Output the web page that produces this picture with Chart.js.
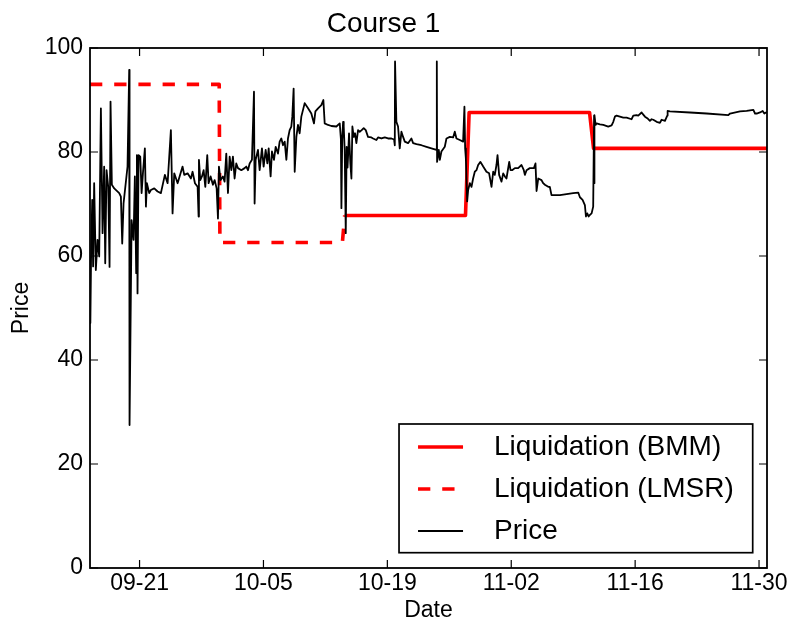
<!DOCTYPE html>
<html>
<head>
<meta charset="utf-8">
<title>Course 1</title>
<script src="https://cdn.jsdelivr.net/npm/chart.js@4.4.0/dist/chart.umd.min.js"></script>
<style>
	html, body { margin: 0; padding: 0; background: #fff; }
	#grafico { display: block; }
</style>
</head>
<body>
<canvas id="grafico" width="793" height="627"></canvas>
<script>
/* Ejes: días contados desde el 21 de septiembre */
const tickDays = [0, 14, 28, 42, 56, 70];
const tickLabels = ["09-21", "10-05", "10-19", "11-02", "11-16", "11-30"];
const yTicks = [0, 20, 40, 60, 80, 100];

/* Liquidación (BMM) */
const bmmDays = [23.18, 36.83, 37.24, 50.85, 51.3, 70.9];
const bmmValues = [67.8, 67.8, 87.6, 87.6, 80.7, 80.7];

/* Liquidación (LMSR) */
const lmsrDays = [-5.6, 9.0, 9.08, 22.92, 23.18];
const lmsrValues = [93.0, 93.0, 62.6, 62.6, 67.8];

/* Precio */
const priceDays = [
	-5.58, -5.56, -5.47, -5.35, -5.25, -5.13, -4.94, -4.75, -4.56, -4.37, -4.18, -4.0, -3.88, -3.73, -3.54, -3.39,
	-3.28, -3.13, -2.86, -2.3, -2.11, -1.96, -1.81, -1.36, -1.17, -1.13, -0.9, -0.68, -0.53, -0.38, -0.3, -0.23,
	-0.11, 0.08, 0.23, 0.38, 0.6, 0.72, 0.83, 1.09, 1.28, 1.66, 2.04, 2.41, 2.86, 3.17, 3.54, 3.73, 3.92, 4.3,
	4.86, 5.05, 5.43, 5.8, 5.99, 6.26, 6.56, 6.67, 6.71, 6.86, 7.05, 7.24, 7.43, 7.65, 7.8, 8.03, 8.29, 8.48,
	8.71, 8.86, 8.97, 9.16, 9.42, 9.61, 9.8, 9.99, 10.18, 10.37, 10.55, 10.74, 10.93, 11.12, 11.5, 11.87, 12.06,
	12.25, 12.44, 12.7, 12.93, 13.0, 13.12, 13.38, 13.57, 13.83, 14.02, 14.25, 14.44, 14.59, 14.81, 14.96, 15.19,
	15.38, 15.64, 15.83, 16.02, 16.21, 16.4, 16.59, 16.77, 16.96, 17.15, 17.26, 17.41, 17.53, 17.72, 17.9, 18.09,
	18.28, 18.47, 18.66, 19.04, 19.41, 19.71, 19.87, 20.17, 20.54, 20.77, 20.92, 21.3, 21.67, 22.24, 22.62, 22.75,
	22.81, 22.9, 23.0, 23.07, 23.18, 23.3, 23.4, 23.5, 23.56, 23.67, 23.82, 23.94, 24.05, 24.2, 24.35, 24.5,
	24.69, 24.88, 25.1, 25.33, 25.56, 25.82, 26.2, 26.39, 26.76, 26.95, 27.33, 27.71, 28.08, 28.46, 28.76, 28.84,
	28.87, 29.02, 29.21, 29.4, 29.59, 29.78, 29.97, 30.34, 30.72, 30.91, 31.29, 31.85, 32.42, 32.98, 33.55, 33.59,
	33.62, 33.81, 33.93, 34.11, 34.49, 34.68, 35.06, 35.43, 35.62, 35.81, 36.19, 36.56, 36.71, 36.79, 36.87, 36.94,
	37.02, 37.13, 37.32, 37.51, 37.69, 37.88, 38.07, 38.26, 38.52, 38.83, 39.2, 39.5, 39.77, 39.96, 40.14, 40.33,
	40.45, 40.63, 40.9, 41.09, 41.28, 41.46, 41.77, 41.92, 42.1, 42.41, 42.78, 43.16, 43.42, 43.54, 43.73, 44.1,
	44.56, 44.74, 44.86, 45.05, 45.42, 45.61, 45.8, 46.18, 46.36, 46.55, 46.93, 47.5, 48.25, 49.0, 49.57, 49.76,
	50.06, 50.32, 50.44, 50.59, 50.74, 50.89, 51.08, 51.26, 51.36, 51.38, 51.42, 51.53, 51.64, 52.02, 52.4, 52.96,
	53.34, 53.53, 53.71, 53.9, 54.28, 54.66, 55.03, 55.6, 55.79, 56.16, 56.35, 56.73, 56.92, 57.11, 57.37, 57.67,
	57.86, 58.05, 58.43, 58.8, 58.99, 59.37, 59.63, 59.67, 59.93, 62.2, 64.08, 66.53, 66.72, 67.85, 68.6, 69.36,
	69.55, 69.74, 70.11, 70.41, 70.6, 70.79, 70.9,
];
const priceValues = [
	59.9, 47.1, 61.0, 70.8, 58.0, 74.0, 57.3, 63.1, 59.9, 88.4, 64.4, 77.2, 58.6, 76.5, 73.3, 57.9,
	89.7, 73.7, 73.0, 72.1, 71.4, 62.4, 70.1, 77.2, 95.8, 27.5, 66.9, 63.1, 75.3, 56.7, 79.4, 52.8,
	79.4, 79.1, 72.1, 75.9, 80.7, 69.5, 74.0, 72.1, 72.7, 73.0, 72.4, 72.1, 75.6, 74.0, 84.2, 68.2, 75.9, 74.0,
	77.2, 75.6, 75.9, 74.9, 76.2, 74.0, 73.3, 67.6, 78.5, 74.6, 75.3, 76.5, 73.3, 79.4, 74.0, 75.3, 73.7, 74.6,
	73.0, 67.2, 77.2, 74.6, 75.3, 74.3, 79.7, 72.1, 79.1, 76.5, 79.1, 74.9, 77.8, 76.9, 76.5, 76.9, 77.2,
	76.5, 77.8, 78.5, 91.6, 70.1, 78.5, 80.4, 76.5, 80.7, 77.2, 80.4, 77.8, 80.7, 75.3, 80.1, 78.5,
	81.0, 79.7, 82.0, 82.6, 81.3, 82.0, 78.5, 82.6, 84.2, 84.9, 86.8, 92.2, 76.2, 82.9, 85.2, 83.6,
	86.8, 88.1, 89.4, 88.4, 87.4, 85.5, 87.8, 88.4, 89.0, 90.0, 85.5, 85.2, 85.0, 84.9, 85.5, 82.5,
	69.2, 82.3, 85.8, 84.9, 80.4, 64.4, 81.0, 77.0, 79.1, 83.6, 77.8, 74.9, 84.9, 82.9, 83.6, 81.7,
	84.2, 83.9, 84.2, 84.6, 84.2, 82.9, 82.8, 82.6, 82.3, 82.8, 82.6, 82.8, 82.6, 82.6, 82.4, 81.3,
	97.4, 85.8, 84.9, 80.7, 83.9, 82.9, 82.0, 81.7, 82.6, 81.7, 81.5, 81.3, 81.0, 80.7, 80.4, 97.4,
	78.1, 80.4, 78.5, 80.1, 81.0, 82.6, 82.9, 82.8, 83.9, 82.6, 82.3, 82.0, 88.7, 80.7, 78.8, 75.0,
	70.5, 72.7, 74.0, 73.3, 74.9, 76.2, 76.5, 77.5, 78.1, 77.2, 76.2, 75.9, 73.3, 76.2, 75.6, 77.5,
	79.4, 75.6, 74.3, 75.9, 75.3, 74.9, 78.1, 76.5, 76.5, 76.9, 76.9, 77.5, 76.5, 75.6, 76.5, 76.9,
	76.9, 77.8, 72.5, 74.9, 74.6, 74.0, 73.7, 73.3, 73.3, 71.7, 71.7, 71.7, 71.9, 72.1, 72.2, 71.3,
	70.8, 69.8, 67.6, 68.2, 67.6, 67.9, 68.2, 69.5, 87.0, 74.0, 87.1, 85.2, 85.5, 85.3, 85.2, 84.9,
	85.1, 85.8, 86.8, 87.0, 86.8, 86.6, 86.6, 86.3, 87.0, 87.1, 87.0, 87.6, 87.2, 86.8, 86.5, 86.0,
	86.3, 86.2, 85.8, 85.6, 86.2, 86.0, 87.0, 87.9, 87.8, 87.6, 87.4, 87.1, 87.4, 87.8, 87.9, 88.1,
	87.4, 87.4, 87.6, 87.9, 87.4, 87.6, 87.6,
];

const FUENTE = "'Liberation Sans', Arial, Helvetica, sans-serif";
Chart.defaults.font.family = FUENTE;
Chart.defaults.color = "#000";

function aPuntos(xs, ys) {
	return xs.map((x, i) => ({ x: x, y: ys[i] }));
}

/* Marco con marcas hacia dentro y leyenda en la esquina inferior derecha */
const marcoPlugin = {
	id: "marco",
	afterDraw(chart) {
		const { ctx, chartArea: a, scales } = chart;
		const largo = 8;
		ctx.save();
		ctx.strokeStyle = "#000";
		ctx.lineWidth = 1.2;
		ctx.beginPath();
		scales.x.ticks.forEach((t) => {
			const px = scales.x.getPixelForValue(t.value);
			ctx.moveTo(px, a.bottom);
			ctx.lineTo(px, a.bottom - largo);
			ctx.moveTo(px, a.top);
			ctx.lineTo(px, a.top + largo);
		});
		scales.y.ticks.forEach((t) => {
			const py = scales.y.getPixelForValue(t.value);
			ctx.moveTo(a.left, py);
			ctx.lineTo(a.left + largo, py);
			ctx.moveTo(a.right, py);
			ctx.lineTo(a.right - largo, py);
		});
		ctx.stroke();
		ctx.lineWidth = 1.8;
		ctx.strokeRect(a.left, a.top, a.right - a.left, a.bottom - a.top);

		// leyenda
		const series = chart.data.datasets;
		ctx.font = "28px " + FUENTE;
		const anchoTexto = Math.max(...series.map((d) => ctx.measureText(d.label).width));
		const w = 95 + anchoTexto + 19;
		const h = 128.7;
		const bx = a.right - 14.3 - w;
		const by = a.bottom - 15.3 - h;
		ctx.fillStyle = "#fff";
		ctx.fillRect(bx, by, w, h);
		ctx.lineWidth = 1.7;
		ctx.strokeStyle = "#000";
		ctx.strokeRect(bx, by, w, h);
		series.forEach((d, i) => {
			const cy = by + 23 + i * 42;
			ctx.beginPath();
			ctx.setLineDash(d.borderDash || []);
			ctx.lineCap = "butt";
			ctx.strokeStyle = d.borderColor;
			ctx.lineWidth = d.borderWidth;
			ctx.moveTo(bx + 19, cy);
			ctx.lineTo(bx + 64, cy);
			ctx.stroke();
			ctx.setLineDash([]);
			ctx.fillStyle = "#000";
			ctx.textAlign = "left";
			ctx.textBaseline = "middle";
			ctx.fillText(d.label, bx + 95, cy);
		});
		ctx.restore();
	},
};

const plotRef = document.getElementById("grafico");

let config = {
	type: "line",
	data: {
		datasets: [
			{
				label: "Liquidation (BMM)",
				data: aPuntos(bmmDays, bmmValues),
				borderColor: "#ff0000",
				borderWidth: 3.6,
				order: 2,
			},
			{
				label: "Liquidation (LMSR)",
				data: aPuntos(lmsrDays, lmsrValues),
				borderColor: "#ff0000",
				borderWidth: 3.6,
				borderDash: [12.3, 11.9],
				order: 3,
			},
			{
				label: "Price",
				data: aPuntos(priceDays, priceValues),
				borderColor: "#000000",
				borderWidth: 1.8,
				order: 1,
			},
		],
	},
	options: {
		responsive: false,
		animation: false,
		events: [],
		elements: {
			point: { radius: 0 },
			line: { tension: 0, fill: false, borderJoinStyle: "round", borderCapStyle: "butt" },
		},
		layout: { padding: { left: 0, right: 26, top: 0, bottom: 0 } },
		plugins: {
			legend: { display: false },
			tooltip: { enabled: false },
			title: {
				display: true,
				text: "Course 1",
				color: "#000",
				font: { size: 28, weight: "normal" },
				padding: { top: 7, bottom: 7.4 },
			},
		},
		scales: {
			x: {
				type: "linear",
				min: -5.6,
				max: 70.9,
				grid: { display: false, drawTicks: false },
				border: { display: false },
				afterBuildTicks: (s) => {
					s.ticks = tickDays.map((v) => ({ value: v }));
				},
				afterFit: (s) => {
					s.height = 59;
					s.paddingLeft = 0;
					s.paddingRight = 0;
				},
				ticks: {
					autoSkip: false,
					maxRotation: 0,
					padding: 2,
					font: { size: 23 },
					callback: (v) => tickLabels[tickDays.indexOf(v)],
				},
				title: { display: true, text: "Date", font: { size: 23 }, padding: { top: 0, bottom: 3 } },
			},
			y: {
				min: 0,
				max: 100,
				grid: { display: false, drawTicks: false },
				border: { display: false },
				afterBuildTicks: (s) => {
					s.ticks = yTicks.map((v) => ({ value: v }));
				},
				afterFit: (s) => {
					s.width = 90;
					s.paddingTop = 0;
					s.paddingBottom = 0;
				},
				ticks: { padding: 7, font: { size: 23 } },
				title: { display: true, text: "Price", font: { size: 23 }, padding: { top: 8, bottom: 0 } },
			},
		},
	},
	plugins: [marcoPlugin],
};

let chart = new Chart(plotRef, config);
</script>
</body>
</html>
